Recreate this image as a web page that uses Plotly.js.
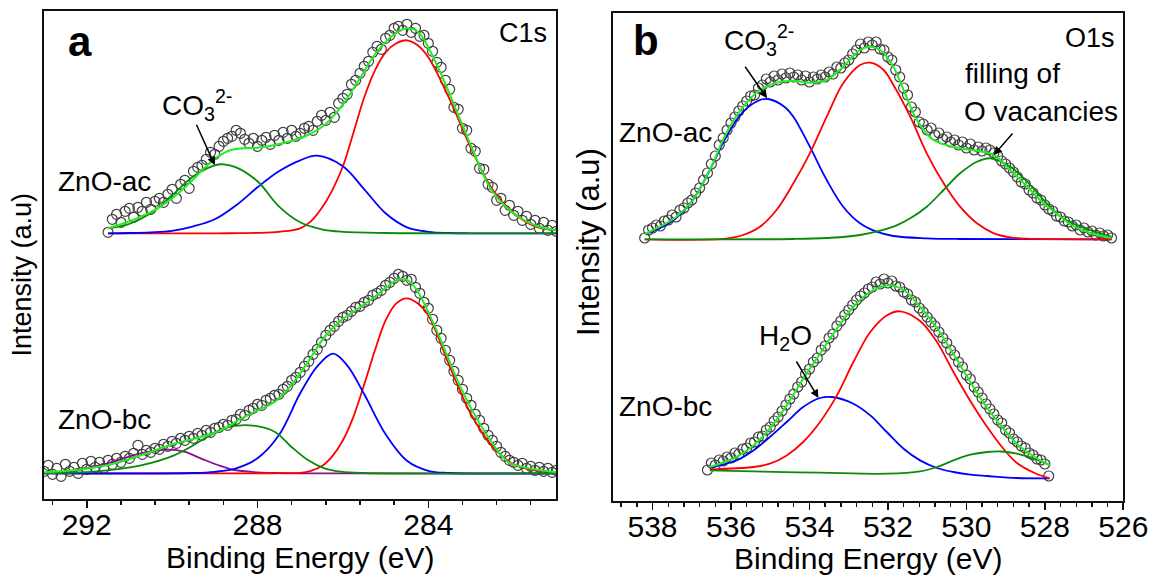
<!DOCTYPE html>
<html>
<head>
<meta charset="utf-8">
<script src="https://cdn.plot.ly/plotly-3.0.1.min.js"></script>
<style>html,body{margin:0;padding:0;background:#fff;}#chart{width:1151px;height:575px;}</style>
</head>
<body>
<div id="chart"></div>
<script>
// ---------- C1s, ZnO-ac (upper curves, panel a) ----------
var c1sAcDataStart = 291.5, c1sAcDataStep = -0.1;
var c1sAcData = [266,279,284,276,287,290,281,291,287,296,
  289,297,300,296,304,309,300,314,318,310,
  327,331,333,339,346,344,352,357,360,362,
  368,365,359,355,360,352,358,361,354,363,
  358,366,360,368,362,365,370,372,368,377,
  383,378,386,381,395,400,404,414,418,425,
  432,437,446,452,449,460,463,470,472,468,
  474,466,470,462,463,455,447,436,431,418,
  409,391,389,370,368,350,347,330,329,314,
  311,298,300,288,293,283,287,278,282,274,
  278,270,276,268,273,267];
var c1sAcRedE = [291.5,289.0,288.5,288.0,287.5,287.0,286.75,286.5,286.25,286.0,285.75,285.5,285.25,285.0,284.75,284.5,284.25,284.0,283.5,283.0,282.5,282.0,281.5,281.0];
var c1sAcRedI = [265,265,265.1,265.4,266.5,270,277,290,308,332,366,401,428,446,455,458,453,441,399,350,309,285,272,268];
var c1sAcBlueE = [291.5,291.0,290.5,290.0,289.5,289.0,288.5,288.0,287.5,287.0,286.6,286.0,285.5,285.0,284.5,284.0,283.5,283.0,281.0];
var c1sAcBlueI = [265,265.3,266,267.5,272,279,293,311,327,338,342.6,332,309,285,271,266.5,265.3,265,265];
var c1sAcGreenE = [291.5,291.0,290.5,290.0,289.5,289.0,288.8,288.5,288.0,287.5,287.0,286.5,286.0,285.0,284.0,281.0];
var c1sAcGreenI = [270,274.5,285,303,322,333,334,331,317,292,276,269,266.5,265.3,265,265];
var c1sAcFitE = [291.5,291.13,290.73,290.34,289.95,289.56,289.25,288.93,288.62,288.31,288.0,287.6,287.21,286.82,286.43,286.04,285.65,285.26,284.87,284.51,284.24,284.01,283.69,283.3,282.91,282.52,282.05,281.5,281.0];
var c1sAcFitI = [270,275,281.6,290,301.6,316.6,330,341.6,348.3,350,350.6,353.3,357.3,363.3,373.3,391.6,416.6,443.3,461.6,470,466.6,451.6,423.3,383.3,343.3,308.3,286.6,273,268];

// ---------- C1s, ZnO-bc (lower curves, panel a) ----------
var c1sBcDataStart = 293.0, c1sBcDataStep = -0.1;
var c1sBcData = [27,33,24,30,22,34,27,31,25,35,
  29,37,31,36,30,38,34,40,36,42,
  40,45,53,44,48,46,50,49,54,52,
  57,55,60,58,62,60,65,63,68,66,
  70,71,74,73,78,79,84,83,88,90,
  94,93,98,100,103,104,109,112,118,121,
  126,132,137,144,149,156,163,168,172,177,
  181,183,187,191,192,196,198,203,205,208,
  213,216,220,224,222,218,219,211,205,196,
  190,179,168,160,148,138,127,118,109,100,
  93,84,78,70,63,58,52,46,42,38,
  36,33,35,30,32,28,31,27,30,26,28];
var c1sBcRedE = [293.0,288.0,287.5,287.0,286.75,286.5,286.25,286.0,285.75,285.5,285.25,285.0,284.75,284.5,284.25,284.0,283.5,283.0,282.5,282.0,281.5,281.0];
var c1sBcRedI = [25,25,25.1,25.5,27.5,32,42,58,82,114,148,178,195,200,195,183,132,84,52,34,28,26];
var c1sBcBlueE = [293.0,289.5,289.0,288.5,288.0,287.5,287.0,286.6,286.23,285.9,285.5,285.0,284.5,284.0,283.5,281.0];
var c1sBcBlueI = [25,25.3,26.5,30,40,63,105,132,144.6,133,104,64,37.5,27.5,25.3,25];
var c1sBcGreenE = [293.0,292.3,291.52,290.73,289.95,289.56,289.17,288.78,288.19,287.6,287.21,286.82,286.43,286.04,285.5,281.0];
var c1sBcGreenI = [25.3,25.6,28,33,43,51.6,61.6,70,73,66.6,51.6,38.3,30,26.6,25.3,25];
var c1sBcPurpleE = [293.0,292.3,291.52,291.13,290.73,290.07,289.72,289.33,288.93,288.54,288.0,287.6,287.0,281.0];
var c1sBcPurpleI = [25.5,27.6,35,40,45,48.6,46.6,40,33.3,28.3,26,25.3,25,25];
var c1sBcFitE = [293.0,292.3,291.52,290.73,289.95,289.17,288.78,288.39,288.0,287.6,287.21,286.82,286.43,286.04,285.65,285.26,284.87,284.67,284.47,284.24,283.93,283.69,283.3,282.91,282.52,282.13,281.5,281.0];
var c1sBcFitI = [26,28,33,43,54.6,63,69.6,79.6,88,96.3,113,136.3,161.3,178,189.6,201.3,214.6,219,218,206.3,179.6,156.3,116.3,83,56.3,36.3,29,26];

// ---------- O1s, ZnO-ac (upper curves, panel b) ----------
var o1sAcDataStart = 538.2, o1sAcDataStep = -0.1;
var o1sAcData = [262,270,272,275,274,279,280,285,283,290,
  292,297,300,307,312,320,327,336,344,355,
  362,370,377,383,389,394,399,404,405,412,
  415,421,418,424,420,426,422,427,423,425,
  420,424,418,423,421,425,423,428,426,433,
  432,437,440,446,450,456,452,458,455,458,
  451,450,443,440,430,423,412,405,393,388,
  378,376,370,372,365,367,361,363,358,360,
  355,358,352,356,350,353,349,352,350,347,
  344,339,336,332,328,323,318,316,310,307,
  302,300,295,291,289,284,283,279,278,274,
  275,270,272,268,269,265,267,264,265,262];
var o1sAcBlueE = [538.2,537.82,537.39,536.97,536.54,536.12,535.69,535.26,535.05,534.64,534.41,533.99,533.56,533.14,532.71,532.29,531.86,531.01,530.16,526.3];
var o1sAcBlueI = [266,271.7,282.3,300,330,363.3,388.3,400,401,393.3,383.3,353.3,320,293.3,276.7,268.3,264,261.7,261,260.7];
var o1sAcRedE = [538.2,536.12,535.69,535.26,534.84,534.41,533.99,533.56,533.14,532.71,532.45,532.11,531.86,531.43,531.01,530.58,530.16,529.73,529.3,528.88,528.45,526.3];
var o1sAcRedI = [260.7,261.3,265,273.3,290,316.7,346.7,383.3,416.7,435,437.3,430,415,383.3,346.7,316.7,293.3,276.7,266.7,262.7,261.3,260.7];
var o1sAcGreenE = [538.2,534.41,533.56,532.71,531.86,531.43,531.01,530.58,530.16,529.73,529.39,528.88,528.45,528.03,527.6,527.0,526.3];
var o1sAcGreenI = [260.7,261,262,265,273.3,281.7,293.3,310,326.7,338.3,341.7,333.3,318.3,300,283.3,272,263.5];
var o1sAcFitE = [538.2,537.82,537.39,536.97,536.54,536.12,535.69,535.26,534.84,534.41,533.99,533.56,533.14,532.71,532.45,532.2,531.86,531.6,531.26,530.84,530.16,529.73,529.3,528.88,528.45,528.03,527.6,527.32,526.84,526.31];
var o1sAcFitI = [266,273.3,283.3,300,330,366.7,393.3,410,417.3,419.3,417.3,420,433.3,450,453.3,450,433.3,410,380,360,351.7,349.3,345,330,313.3,296.7,283.3,275,267,262];

// ---------- O1s, ZnO-bc (lower curves, panel b) ----------
var o1sBcDataStart = 536.6, o1sBcDataStep = -0.1;
var o1sBcData = [30,37,35,40,39,43,42,47,46,51,
  52,57,58,63,64,70,73,79,83,89,
  95,101,106,113,118,126,131,138,142,150,
  154,162,166,174,179,185,190,195,200,204,
  207,211,213,218,216,221,217,219,214,213,
  208,206,200,198,192,188,183,178,174,168,
  162,157,150,145,138,133,125,121,113,108,
  102,96,91,86,80,77,70,67,61,58,
  54,52,47,45,41,40,36,24];
var o1sBcBlueE = [536.54,536.29,535.86,535.43,535.01,534.58,534.16,533.73,533.43,532.88,532.45,532.03,531.6,531.18,530.75,530.33,529.9,529.47,528.71,527.88];
var o1sBcBlueI = [32,34.6,39.6,49.6,63,78,93,102,103,96.3,84.6,68,51.3,39.6,32,28,25.3,24,22,21.7];
var o1sBcRedE = [536.54,535.43,535.01,534.58,534.16,533.73,533.3,532.88,532.45,532.03,531.69,531.18,530.75,530.33,529.9,529.47,529.05,528.71,528.26,527.88];
var o1sBcRedI = [30.6,33,36.3,44.6,58,78,104.6,138,168,184.6,188.7,179,158,128,99,73,51,37,27,21.7];
var o1sBcGreenE = [536.54,535.43,533.73,532.03,531.18,530.75,530.33,529.9,529.47,529.1,528.71,528.26,527.88];
var o1sBcGreenI = [29.6,28.6,27.3,26.3,28.6,33,39.6,45.3,48,48.5,46.3,41,35];
var o1sBcFitE = [536.54,536.29,535.86,535.43,535.01,534.58,534.16,533.73,533.3,532.88,532.45,532.03,531.6,531.18,530.75,530.33,529.9,529.47,529.05,528.71,528.26,527.88];
var o1sBcFitI = [33,36.3,43,54.6,71.3,94.6,121.3,146.3,171.3,193,208,214.6,210,193,172,146,118,92,71,56,43,35];

// tick labels
var c1sTicks = [292, 288, 284];
var o1sTicks = [538, 536, 534, 532, 530, 528, 526];

var FONT = 'Liberation Sans, Arial, Helvetica, sans-serif';
var RED = '#ff0000', BLUE = '#0000ff', DKGREEN = '#0a8a0a', LTGREEN = '#22ee22', PURPLE = '#8b108b';

function dataTrace(x0, dx, y, xa, ya) {
  return {type: 'scatter', mode: 'markers', x0: x0, dx: dx, y: y, xaxis: xa, yaxis: ya,
    marker: {symbol: 'circle-open', size: 10, color: '#404040', line: {width: 1.2}}, hoverinfo: 'skip'};
}
function curve(x, y, color, w, xa, ya) {
  return {type: 'scatter', mode: 'lines', x: x, y: y, xaxis: xa, yaxis: ya,
    line: {color: color, width: w, shape: 'spline', smoothing: 1}, hoverinfo: 'skip'};
}

var traces = [
  dataTrace(c1sAcDataStart, c1sAcDataStep, c1sAcData, 'x', 'y'),
  dataTrace(c1sBcDataStart, c1sBcDataStep, c1sBcData, 'x', 'y'),
  curve(c1sAcRedE, c1sAcRedI, RED, 1.8, 'x', 'y'),
  curve(c1sAcBlueE, c1sAcBlueI, BLUE, 1.8, 'x', 'y'),
  curve(c1sAcGreenE, c1sAcGreenI, DKGREEN, 1.8, 'x', 'y'),
  curve(c1sBcPurpleE, c1sBcPurpleI, PURPLE, 1.8, 'x', 'y'),
  curve(c1sBcRedE, c1sBcRedI, RED, 1.8, 'x', 'y'),
  curve(c1sBcBlueE, c1sBcBlueI, BLUE, 1.8, 'x', 'y'),
  curve(c1sBcGreenE, c1sBcGreenI, DKGREEN, 1.8, 'x', 'y'),
  curve(c1sAcFitE, c1sAcFitI, LTGREEN, 2, 'x', 'y'),
  curve(c1sBcFitE, c1sBcFitI, LTGREEN, 2, 'x', 'y'),

  dataTrace(o1sAcDataStart, o1sAcDataStep, o1sAcData, 'x2', 'y2'),
  dataTrace(o1sBcDataStart, o1sBcDataStep, o1sBcData, 'x2', 'y2'),
  curve(o1sAcBlueE, o1sAcBlueI, BLUE, 1.8, 'x2', 'y2'),
  curve(o1sAcRedE, o1sAcRedI, RED, 1.8, 'x2', 'y2'),
  curve(o1sAcGreenE, o1sAcGreenI, DKGREEN, 1.8, 'x2', 'y2'),
  curve(o1sBcBlueE, o1sBcBlueI, BLUE, 1.8, 'x2', 'y2'),
  curve(o1sBcRedE, o1sBcRedI, RED, 1.8, 'x2', 'y2'),
  curve(o1sBcGreenE, o1sBcGreenI, DKGREEN, 1.8, 'x2', 'y2'),
  curve(o1sAcFitE, o1sAcFitI, LTGREEN, 2, 'x2', 'y2'),
  curve(o1sBcFitE, o1sBcFitI, LTGREEN, 2, 'x2', 'y2')
];

function xAxis(domain, range, ticks, minorDtick, anchor) {
  return {domain: domain, range: range, anchor: anchor, showline: true, mirror: true,
    linewidth: 2, linecolor: '#111', ticks: 'outside', tickvals: ticks, ticktext: ticks.map(String),
    ticklen: 7, tickwidth: 1.6, tickcolor: '#111', showgrid: false, zeroline: false,
    ticklabelstandoff: -9,
    minor: {dtick: minorDtick, tick0: ticks[0], ticks: 'outside', ticklen: 4, tickwidth: 1.4, tickcolor: '#111', showgrid: false},
    tickfont: {family: FONT, size: 30, color: '#000'},
    title: {text: 'Binding Energy (eV)', font: {family: FONT, size: 30, color: '#000'}, standoff: 0}};
}
function yAxis(domain, range, anchor) {
  return {domain: domain, range: range, anchor: anchor, showline: true, mirror: true,
    linewidth: 2, linecolor: '#111', ticks: '', showticklabels: false, showgrid: false, zeroline: false};
}

function txt(text, x, y, size, xanchor, extra) {
  var a = {text: text, xref: 'paper', yref: 'paper', x: x, y: y, xanchor: xanchor || 'center', yanchor: 'middle',
    showarrow: false, font: {family: FONT, size: size, color: '#000'}};
  if (extra) for (var k in extra) a[k] = extra[k];
  return a;
}
function arrow(x, y, ax, ay, xa, ya) {
  return {text: '', xref: xa, yref: ya, x: x, y: y, ax: ax, ay: ay, showarrow: true,
    arrowhead: 2, arrowsize: 1.1, arrowwidth: 1.5, arrowcolor: '#000', standoff: 0};
}

var layout = {
  width: 1151, height: 575, margin: {l: 0, r: 0, t: 0, b: 0},
  paper_bgcolor: '#fff', plot_bgcolor: '#fff', showlegend: false,
  font: {family: FONT, color: '#000'},
  xaxis: xAxis([0.03823, 0.48341], [293, 281], c1sTicks, 0.8, 'y'),
  yaxis: yAxis([0.13165, 0.98087], [-1, 487.3], 'x'),
  xaxis2: xAxis([0.53284, 0.97593], [539, 526], o1sTicks, 0.4, 'y2'),
  yaxis2: yAxis([0.12922, 0.97687], [-0.7, 486.7], 'x2'),
  annotations: [
    txt('<b>a</b>', 0.0695, 0.927, 42),
    txt('C1s', 0.4770, 0.9426, 27, 'right'),
    txt('ZnO-ac', 0.0904, 0.6835, 28),
    txt('ZnO-bc', 0.0904, 0.2696, 28),
    txt('CO<sub>3</sub><sup>2-</sup>', 0.1390, 0.8174, 28, 'left'),
    txt('Intensity (a.u)', 0.01955, 0.5217, 27, 'center', {textangle: -90}),
    arrow(289.0, 333, -19, -42, 'x', 'y'),

    txt('<b>b</b>', 0.5613, 0.9304, 42),
    txt('O1s', 0.9705, 0.9339, 27, 'right'),
    txt('ZnO-ac', 0.5786, 0.7687, 28),
    txt('ZnO-bc', 0.5778, 0.2922, 28),
    txt('CO<sub>3</sub><sup>2-</sup>', 0.6270, 0.9304, 28, 'left'),
    txt('filling of', 0.8367, 0.8730, 28, 'left'),
    txt('O vacancies', 0.8358, 0.8057, 28, 'left'),
    txt('H<sub>2</sub>O', 0.6574, 0.4122, 28, 'left'),
    txt('Intensity (a.u)', 0.5111, 0.5797, 31, 'center', {textangle: -90}),
    arrow(535.08, 401.7, -23, -33, 'x2', 'y2'),
    arrow(529.3, 345, 20, -23, 'x2', 'y2'),
    arrow(533.77, 102, -23, -38, 'x2', 'y2')
  ]
};

Plotly.newPlot('chart', traces, layout, {staticPlot: true, displayModeBar: false});
</script>
</body>
</html>
